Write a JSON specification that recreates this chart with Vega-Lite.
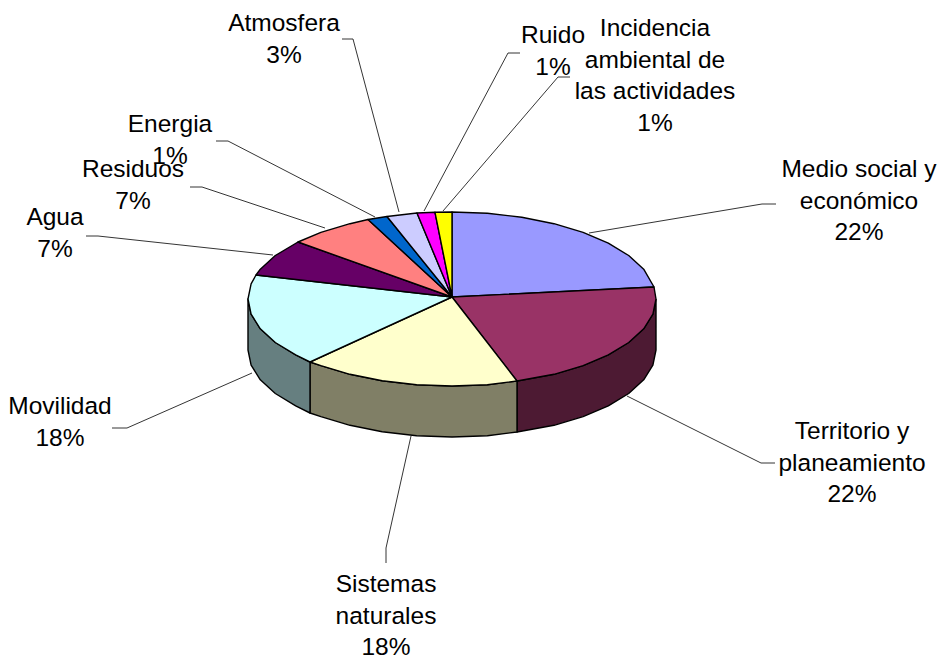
{"$schema":"https://vega.github.io/schema/vega-lite/v6.json","width":938,"height":659,"padding":0,"autosize":{"type":"none"},"background":"white","config":{"view":{"stroke":null}},
"datasets":{
"walls":[
{"s":"Territorio","i":1,"x":656,"y":299},{"s":"Territorio","i":2,"x":652.9,"y":314.1},{"s":"Territorio","i":3,"x":643.7,"y":328.8},{"s":"Territorio","i":4,"x":628.7,"y":342.5},{"s":"Territorio","i":5,"x":608.3,"y":354.9},{"s":"Territorio","i":6,"x":583.1,"y":365.6},{"s":"Territorio","i":7,"x":554,"y":374.3},{"s":"Territorio","i":8,"x":517,"y":381},{"s":"Territorio","i":9,"x":517,"y":432},{"s":"Territorio","i":10,"x":554,"y":425.3},{"s":"Territorio","i":11,"x":583.1,"y":416.6},{"s":"Territorio","i":12,"x":608.3,"y":405.9},{"s":"Territorio","i":13,"x":628.7,"y":393.5},{"s":"Territorio","i":14,"x":643.7,"y":379.8},{"s":"Territorio","i":15,"x":652.9,"y":365.1},{"s":"Territorio","i":16,"x":656,"y":350},{"s":"Territorio","i":17,"x":656,"y":299},
{"s":"Sistemas","i":1,"x":517,"y":381},{"s":"Sistemas","i":2,"x":487.4,"y":384.7},{"s":"Sistemas","i":3,"x":452,"y":386},{"s":"Sistemas","i":4,"x":416.6,"y":384.7},{"s":"Sistemas","i":5,"x":382.2,"y":380.8},{"s":"Sistemas","i":6,"x":350,"y":374.3},{"s":"Sistemas","i":7,"x":320.9,"y":365.6},{"s":"Sistemas","i":8,"x":310,"y":362},{"s":"Sistemas","i":9,"x":310,"y":413},{"s":"Sistemas","i":10,"x":320.9,"y":416.6},{"s":"Sistemas","i":11,"x":350,"y":425.3},{"s":"Sistemas","i":12,"x":382.2,"y":431.8},{"s":"Sistemas","i":13,"x":416.6,"y":435.7},{"s":"Sistemas","i":14,"x":452,"y":437},{"s":"Sistemas","i":15,"x":487.4,"y":435.7},{"s":"Sistemas","i":16,"x":517,"y":432},{"s":"Sistemas","i":17,"x":517,"y":381},
{"s":"Movilidad","i":1,"x":310,"y":362},{"s":"Movilidad","i":2,"x":295.7,"y":354.9},{"s":"Movilidad","i":3,"x":275.3,"y":342.5},{"s":"Movilidad","i":4,"x":260.3,"y":328.8},{"s":"Movilidad","i":5,"x":251.1,"y":314.1},{"s":"Movilidad","i":6,"x":248,"y":299},{"s":"Movilidad","i":7,"x":248,"y":350},{"s":"Movilidad","i":8,"x":251.1,"y":365.1},{"s":"Movilidad","i":9,"x":260.3,"y":379.8},{"s":"Movilidad","i":10,"x":275.3,"y":393.5},{"s":"Movilidad","i":11,"x":295.7,"y":405.9},{"s":"Movilidad","i":12,"x":310,"y":413},{"s":"Movilidad","i":13,"x":310,"y":362}
],
"tops":[
{"s":"Medio","i":1,"x":452,"y":297},{"s":"Medio","i":2,"x":452,"y":212},{"s":"Medio","i":3,"x":487.4,"y":213.3},{"s":"Medio","i":4,"x":521.8,"y":217.2},{"s":"Medio","i":5,"x":554,"y":223.7},{"s":"Medio","i":6,"x":583.1,"y":232.4},{"s":"Medio","i":7,"x":608.3,"y":243.1},{"s":"Medio","i":8,"x":628.7,"y":255.5},{"s":"Medio","i":9,"x":643.7,"y":269.2},{"s":"Medio","i":10,"x":654,"y":287},{"s":"Medio","i":11,"x":452,"y":297},
{"s":"Territorio","i":1,"x":452,"y":297},{"s":"Territorio","i":2,"x":654,"y":287},{"s":"Territorio","i":3,"x":656,"y":299},{"s":"Territorio","i":4,"x":652.9,"y":314.1},{"s":"Territorio","i":5,"x":643.7,"y":328.8},{"s":"Territorio","i":6,"x":628.7,"y":342.5},{"s":"Territorio","i":7,"x":608.3,"y":354.9},{"s":"Territorio","i":8,"x":583.1,"y":365.6},{"s":"Territorio","i":9,"x":554,"y":374.3},{"s":"Territorio","i":10,"x":517,"y":381},{"s":"Territorio","i":11,"x":452,"y":297},
{"s":"Sistemas","i":1,"x":452,"y":297},{"s":"Sistemas","i":2,"x":517,"y":381},{"s":"Sistemas","i":3,"x":487.4,"y":384.7},{"s":"Sistemas","i":4,"x":452,"y":386},{"s":"Sistemas","i":5,"x":416.6,"y":384.7},{"s":"Sistemas","i":6,"x":382.2,"y":380.8},{"s":"Sistemas","i":7,"x":350,"y":374.3},{"s":"Sistemas","i":8,"x":320.9,"y":365.6},{"s":"Sistemas","i":9,"x":310,"y":362},{"s":"Sistemas","i":10,"x":452,"y":297},
{"s":"Movilidad","i":1,"x":452,"y":297},{"s":"Movilidad","i":2,"x":310,"y":362},{"s":"Movilidad","i":3,"x":295.7,"y":354.9},{"s":"Movilidad","i":4,"x":275.3,"y":342.5},{"s":"Movilidad","i":5,"x":260.3,"y":328.8},{"s":"Movilidad","i":6,"x":251.1,"y":314.1},{"s":"Movilidad","i":7,"x":248,"y":299},{"s":"Movilidad","i":8,"x":251.1,"y":283.9},{"s":"Movilidad","i":9,"x":256,"y":275},{"s":"Movilidad","i":10,"x":452,"y":297},
{"s":"Agua","i":1,"x":452,"y":297},{"s":"Agua","i":2,"x":256,"y":275},{"s":"Agua","i":3,"x":260.3,"y":269.2},{"s":"Agua","i":4,"x":275.3,"y":255.5},{"s":"Agua","i":5,"x":298,"y":242},{"s":"Agua","i":6,"x":452,"y":297},
{"s":"Residuos","i":1,"x":452,"y":297},{"s":"Residuos","i":2,"x":298,"y":242},{"s":"Residuos","i":3,"x":320.9,"y":232.4},{"s":"Residuos","i":4,"x":350,"y":223.7},{"s":"Residuos","i":5,"x":368,"y":219.5},{"s":"Residuos","i":6,"x":452,"y":297},
{"s":"Energia","i":1,"x":452,"y":297},{"s":"Energia","i":2,"x":368,"y":219.5},{"s":"Energia","i":3,"x":387,"y":216.5},{"s":"Energia","i":4,"x":452,"y":297},
{"s":"Atmosfera","i":1,"x":452,"y":297},{"s":"Atmosfera","i":2,"x":387,"y":216.5},{"s":"Atmosfera","i":3,"x":417,"y":213},{"s":"Atmosfera","i":4,"x":452,"y":297},
{"s":"Ruido","i":1,"x":452,"y":297},{"s":"Ruido","i":2,"x":417,"y":213},{"s":"Ruido","i":3,"x":435,"y":212.3},{"s":"Ruido","i":4,"x":452,"y":297},
{"s":"Incidencia","i":1,"x":452,"y":297},{"s":"Incidencia","i":2,"x":435,"y":212.3},{"s":"Incidencia","i":3,"x":452,"y":212},{"s":"Incidencia","i":4,"x":452,"y":297}
],
"leaders":[
{"s":"Medio","i":1,"x":589,"y":233},{"s":"Medio","i":2,"x":762,"y":204},{"s":"Medio","i":3,"x":776,"y":204},
{"s":"Territorio","i":1,"x":627,"y":396},{"s":"Territorio","i":2,"x":761,"y":463},{"s":"Territorio","i":3,"x":775,"y":463},
{"s":"Sistemas","i":1,"x":411,"y":436},{"s":"Sistemas","i":2,"x":386,"y":548},{"s":"Sistemas","i":3,"x":386,"y":563},
{"s":"Movilidad","i":1,"x":252,"y":373},{"s":"Movilidad","i":2,"x":127,"y":428},{"s":"Movilidad","i":3,"x":112,"y":428},
{"s":"Agua","i":1,"x":273,"y":255},{"s":"Agua","i":2,"x":98,"y":236},{"s":"Agua","i":3,"x":86,"y":236},
{"s":"Residuos","i":1,"x":325,"y":228},{"s":"Residuos","i":2,"x":202,"y":187},{"s":"Residuos","i":3,"x":190,"y":187},
{"s":"Energia","i":1,"x":375,"y":217},{"s":"Energia","i":2,"x":228,"y":141},{"s":"Energia","i":3,"x":216,"y":141},
{"s":"Atmosfera","i":1,"x":399,"y":212},{"s":"Atmosfera","i":2,"x":353,"y":39},{"s":"Atmosfera","i":3,"x":342,"y":39},
{"s":"Ruido","i":1,"x":424,"y":211},{"s":"Ruido","i":2,"x":508,"y":53},{"s":"Ruido","i":3,"x":520,"y":53},
{"s":"Incidencia","i":1,"x":443,"y":211},{"s":"Incidencia","i":2,"x":558,"y":77},{"s":"Incidencia","i":3,"x":570,"y":77}
],
"labels":[
{"label":"Medio social y\neconómico\n22%","x":859,"y":177},
{"label":"Territorio y\nplaneamiento\n22%","x":852,"y":439},
{"label":"Sistemas\nnaturales\n18%","x":386,"y":592},
{"label":"Movilidad\n18%","x":60,"y":414},
{"label":"Agua\n7%","x":55,"y":225},
{"label":"Residuos\n7%","x":133,"y":177},
{"label":"Energia\n1%","x":170,"y":132},
{"label":"Atmosfera\n3%","x":284,"y":31},
{"label":"Ruido\n1%","x":553,"y":43},
{"label":"Incidencia\nambiental de\nlas actividades\n1%","x":655,"y":36}
]},
"encoding":{
"x":{"field":"x","type":"quantitative","axis":null,"scale":{"domain":[0,938],"nice":false,"zero":false}},
"y":{"field":"y","type":"quantitative","axis":null,"scale":{"domain":[659,0],"nice":false,"zero":false}}
},
"layer":[
{"data":{"name":"leaders"},"mark":{"type":"line","stroke":"#000000","strokeWidth":0.8,"clip":false},"encoding":{"detail":{"field":"s"},"order":{"field":"i","type":"quantitative"}}},
{"data":{"name":"walls"},"mark":{"type":"line","stroke":"#000000","strokeWidth":1.4,"strokeJoin":"round"},"encoding":{"detail":{"field":"s"},"order":{"field":"i","type":"quantitative"},"fill":{"field":"s","type":"nominal","legend":null,"scale":{"domain":["Territorio","Sistemas","Movilidad"],"range":["#4D1A33","#807F66","#667F80"]}}}},
{"data":{"name":"tops"},"mark":{"type":"line","stroke":"#000000","strokeWidth":1.4,"strokeJoin":"round"},"encoding":{"detail":{"field":"s"},"order":{"field":"i","type":"quantitative"},"fill":{"field":"s","type":"nominal","legend":null,"scale":{"domain":["Medio","Territorio","Sistemas","Movilidad","Agua","Residuos","Energia","Atmosfera","Ruido","Incidencia"],"range":["#9999FF","#993366","#FFFFCC","#CCFFFF","#660066","#FF8080","#0066CC","#CCCCFF","#FF00FF","#FFFF00"]}}}},
{"data":{"name":"labels"},"mark":{"type":"text","font":"Liberation Sans","fontSize":24.5,"lineBreak":"\n","lineHeight":31.5,"align":"center","baseline":"alphabetic","color":"#000000","clip":false},"encoding":{"text":{"field":"label"}}}
],
"resolve":{"scale":{"fill":"independent"}}
}
